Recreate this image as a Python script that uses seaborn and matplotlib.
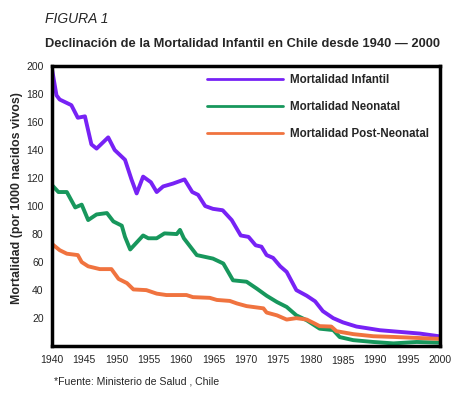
import pandas as pd
import numpy as np
import matplotlib
matplotlib.use("Agg")
import matplotlib.pyplot as plt
import seaborn as sns

# Datos (tasas por 1000 nacidos vivos)
anios_infantil = [1940.0, 1940.7, 1941.2, 1943.0, 1944.0, 1945.1, 1946.1, 1946.9, 1948.7, 1949.7,
                  1951.3, 1952.3, 1953.1, 1954.1, 1955.3, 1956.2, 1957.2, 1958.7, 1960.5, 1961.7,
                  1962.6, 1963.7, 1964.9, 1966.4, 1967.8, 1969.2, 1970.4, 1971.5, 1972.4, 1973.2,
                  1974.2, 1975.3, 1976.3, 1977.8, 1979.4, 1980.7, 1981.9, 1983.5, 1985.0, 1987.1,
                  1989.2, 1990.7, 1993.8, 1996.9, 2000.0]
infantil = [198, 179, 176, 172, 163, 164, 144, 141, 149, 140,
            133, 119, 109, 121, 117, 110, 114, 116, 119, 110,
            108, 100, 98, 97, 90, 79, 78, 72, 71, 65,
            63, 57, 53, 40, 36, 32, 25, 20, 17, 14,
            12.5, 11.4, 10.2, 9, 7]

anios_neonatal = [1940.0, 1941.0, 1942.3, 1943.6, 1944.6, 1945.6, 1946.9, 1948.5, 1949.5, 1950.8,
                  1951.3, 1952.1, 1954.1, 1954.9, 1956.2, 1957.4, 1959.3, 1959.8, 1960.4, 1962.4,
                  1964.9, 1966.5, 1968.0, 1970.1, 1971.7, 1973.2, 1974.8, 1976.3, 1977.8, 1979.4,
                  1981.4, 1983.5, 1984.5, 1986.6, 1989.7, 1992.8, 1996.4, 2000.0]
neonatal = [115, 110, 110, 99, 101, 90, 94, 95, 89, 86,
            78, 69, 79, 77, 77, 80.5, 80, 83, 77, 65,
            62.5, 59, 47, 46, 41, 36, 31.5, 28, 22, 18.5,
            12.5, 11.5, 6.5, 4.3, 3, 2, 3, 2.5]

anios_post = [1940.0, 1941.2, 1942.3, 1944.0, 1944.6, 1945.6, 1947.4, 1949.2, 1950.3, 1951.6,
              1952.6, 1954.6, 1956.2, 1957.7, 1960.8, 1961.8, 1964.4, 1965.5, 1967.5, 1968.6,
              1970.1, 1972.7, 1973.2, 1974.8, 1976.3, 1977.8, 1979.4, 1980.7, 1981.4, 1983.2,
              1984.0, 1986.6, 1989.7, 1992.8, 1994.9, 2000.0]
post_neonatal = [73, 68.5, 66, 65, 60, 57, 55, 55, 48, 45,
                 40.5, 40, 37.5, 36.5, 36.5, 35, 34.5, 33, 32.3, 30.5,
                 28.6, 27, 24, 22, 19, 20, 19, 16, 14.3, 14,
                 10.7, 8.6, 7.1, 6.6, 6.2, 5.2]

etiquetas = ["Mortalidad Infantil", "Mortalidad Neonatal", "Mortalidad Post-Neonatal"]
colores = ["#7722f5", "#17975c", "#f0733f"]
xticks = list(range(1940, 2001, 5))
yticks = list(range(20, 201, 20))

sns.set_style("white")
plt.rcParams['font.family'] = ['Liberation Sans', 'DejaVu Sans']

fig = plt.figure(figsize=(4.68, 3.97), dpi=100)
ax = fig.add_axes([0.111, 0.128, 0.829, 0.706])

series = [(anios_infantil, infantil), (anios_neonatal, neonatal), (anios_post, post_neonatal)]
for (x, y), etiqueta, color in zip(series, etiquetas, colores):
    sns.lineplot(x=x, y=y, ax=ax, color=color, linewidth=2.8, label=etiqueta)

ax.set_xlim(1940, 2000)
ax.set_ylim(0, 200)
ax.set_xticks(xticks)
ax.set_yticks(yticks)
ax.tick_params(axis='both', direction='out', length=4, width=1.5, labelsize=7.5, color='black', pad=2)
for sp in ax.spines.values():
    sp.set_linewidth(2.5)
    sp.set_color('black')
# la etiqueta 1985 aparece un poco mas abajo en el original
ax.xaxis.get_major_ticks()[9].set_pad(3)

ax.set_xlabel("")
ax.set_ylabel("Mortalidad (por 1000 nacidos vivos)", fontsize=8.9, fontweight='bold')
ax.yaxis.set_label_coords(-0.075, 0.53)

leg = ax.legend(loc='upper left', bbox_to_anchor=(0.40, 0.97), frameon=False,
                prop={'weight': 'bold', 'size': 8.3}, handlelength=6.6, handletextpad=0.6,
                labelspacing=1.3, borderpad=0, borderaxespad=0)
for h in leg.get_lines():
    h.set_linewidth(2)

fig.text(0.096, 0.97, "FIGURA 1", fontsize=10, style='italic', va='top', ha='left')
fig.text(0.518, 0.89, "Declinación de la Mortalidad Infantil en Chile desde 1940 — 2000",
         fontsize=9.3, fontweight='bold', ha='center', va='center')
fig.text(0.115, 0.038, "*Fuente: Ministerio de Salud , Chile", fontsize=7.6, ha='left', va='center')

fig.savefig("out.png", dpi=100)
